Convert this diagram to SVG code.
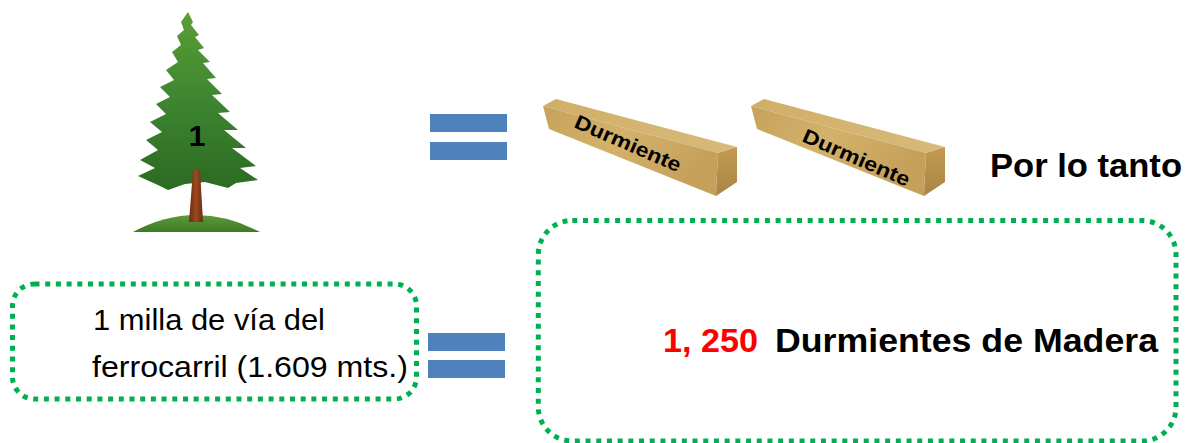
<svg xmlns="http://www.w3.org/2000/svg" width="1193" height="443" viewBox="0 0 1193 443">
  <defs>
    <linearGradient id="foliage" x1="0" y1="0" x2="0" y2="1">
      <stop offset="0" stop-color="#5a9e34"/>
      <stop offset="0.5" stop-color="#3d8530"/>
      <stop offset="1" stop-color="#2c6a22"/>
    </linearGradient>
    <linearGradient id="ground" x1="0" y1="0" x2="0" y2="1">
      <stop offset="0" stop-color="#5d9a3a"/>
      <stop offset="1" stop-color="#3d7a26"/>
    </linearGradient>
    <linearGradient id="trunk" x1="0" y1="0" x2="1" y2="0">
      <stop offset="0" stop-color="#6e2a10"/>
      <stop offset="0.5" stop-color="#9a4a1e"/>
      <stop offset="1" stop-color="#6e2a10"/>
    </linearGradient>
    <linearGradient id="woodFront" x1="0" y1="0" x2="1" y2="0.4">
      <stop offset="0" stop-color="#c7a15a"/>
      <stop offset="0.5" stop-color="#d3b26c"/>
      <stop offset="1" stop-color="#c6a05a"/>
    </linearGradient>
    <linearGradient id="woodTop" x1="0" y1="0" x2="1" y2="0">
      <stop offset="0" stop-color="#cfae68"/>
      <stop offset="1" stop-color="#d8ba78"/>
    </linearGradient>
    <linearGradient id="woodEnd" x1="0" y1="0" x2="0" y2="1">
      <stop offset="0" stop-color="#c29a52"/>
      <stop offset="1" stop-color="#aa8442"/>
    </linearGradient>
    <g id="beam">
      <polygon points="543,106 556,99 737,147 718,153" fill="url(#woodTop)"/>
      <polygon points="543,106 718,153 716,196 549,129" fill="url(#woodFront)"/>
      <polygon points="718,153 737,147 737,182 716,196" fill="url(#woodEnd)"/>
    </g>
  </defs>
  <style>
    .eq { fill: #4f81bd; }
    .dotted { fill: none; stroke: #00b050; stroke-width: 5; stroke-dasharray: 5 5.7; }
    .txt { font-family: "Liberation Sans", Arial, sans-serif; fill: #000; }
    .bold { font-weight: bold; }
    .red { fill: #ff0000; }
  </style>

  <!-- spruce tree with the number 1 -->
  <g id="tree">
    <path d="M133,232 Q196,198 260,232 Z" fill="url(#ground)"/>
    <polygon points="188,12 193,22 191,25 199,35 195,37 204,48 198,50 210,62 203,63 216,78 207,79 222,94 212,95 230,112 218,113 238,130 224,130 246,148 232,148 256,166 240,168 258,180 236,183 228,188 205,182 185,184 168,190 160,186 138,176 155,168 140,160 158,150 146,140 162,132 150,122 166,114 156,104 170,97 160,87 174,80 166,70 178,62 172,52 181,45 177,36 184,30 181,22" fill="url(#foliage)"/>
    <polygon points="193,170 200,170 203,222 189,222" fill="url(#trunk)"/>
    <text class="txt bold" x="197" y="146" font-size="30" text-anchor="middle">1</text>
  </g>

  <!-- equals signs -->
  <g id="equals-top">
    <rect class="eq" x="430" y="114" width="77" height="18"/>
    <rect class="eq" x="430" y="142" width="77" height="18"/>
  </g>
  <g id="equals-bottom">
    <rect class="eq" x="428" y="333" width="77" height="18"/>
    <rect class="eq" x="428" y="360" width="77" height="18"/>
  </g>

  <!-- wooden sleepers -->
  <g id="sleeper-1">
    <use href="#beam"/>
    <text class="txt bold" x="0" y="0" font-size="20" textLength="114" lengthAdjust="spacingAndGlyphs" transform="translate(573,127) rotate(23.5)">Durmiente</text>
  </g>
  <g id="sleeper-2">
    <use href="#beam" transform="translate(208,0)"/>
    <text class="txt bold" x="0" y="0" font-size="20" textLength="115" lengthAdjust="spacingAndGlyphs" transform="translate(801,141) rotate(23.5)">Durmiente</text>
  </g>

  <g id="conclusion-label">
    <text class="txt bold" x="990" y="177" font-size="33" textLength="192" lengthAdjust="spacingAndGlyphs">Por lo tanto</text>
  </g>

  <!-- one mile of track -->
  <g id="mile-box">
    <rect class="dotted" x="12.5" y="284" width="404" height="115" rx="22"/>
    <text class="txt" x="93" y="330" font-size="30" textLength="232" lengthAdjust="spacingAndGlyphs">1 milla de vía del</text>
    <text class="txt" x="92" y="377" font-size="30" textLength="316" lengthAdjust="spacingAndGlyphs">ferrocarril (1.609 mts.)</text>
  </g>

  <!-- result -->
  <g id="result-box">
    <rect class="dotted" x="538.3" y="220.5" width="637.7" height="220.5" rx="34"/>
    <text class="txt bold red" x="663" y="352" font-size="34" textLength="95" lengthAdjust="spacingAndGlyphs">1, 250</text>
    <text class="txt bold" x="775" y="352" font-size="34" textLength="383" lengthAdjust="spacingAndGlyphs">Durmientes de Madera</text>
  </g>

  <g id="connectors"/>
</svg>
